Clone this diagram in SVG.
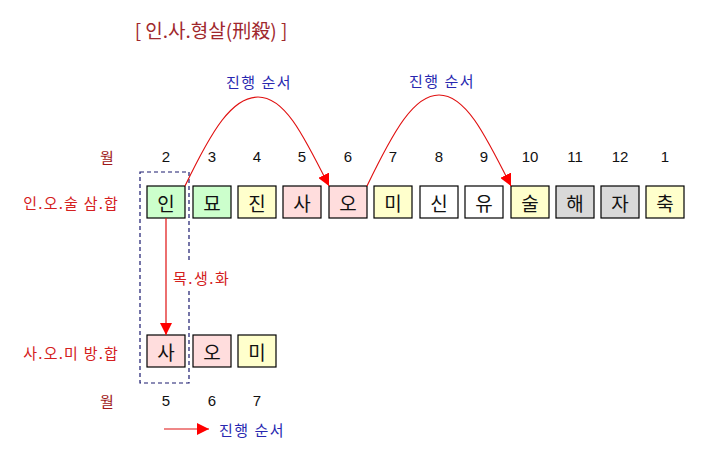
<svg xmlns="http://www.w3.org/2000/svg" width="710" height="456" viewBox="0 0 710 456">
<style>
text{font-family:"Noto Sans CJK KR","Noto Sans",sans-serif;}
.box{stroke:#000;stroke-width:1.2;}
.g{fill:#ccffcc}.y{fill:#ffffcc}.p{fill:#ffdddd}.w{fill:#ffffff}.d{fill:#d9d9d9}
.bt{font-size:19px;fill:#111;text-anchor:middle;dominant-baseline:central;}
.num{font-size:15px;fill:#111;text-anchor:middle;dominant-baseline:central;font-family:"Liberation Sans",sans-serif;}
.lbl{font-size:15px;fill:#d42020;text-anchor:end;dominant-baseline:central;letter-spacing:1.2px;}
.mon{font-size:15px;fill:#a01818;text-anchor:middle;dominant-baseline:central;}
.blue{font-size:15px;fill:#2828b0;dominant-baseline:central;letter-spacing:1.5px;}
.conn{fill:none;stroke:#e01010;stroke-width:1.2;}
</style>
<defs>
<marker id="ah" viewBox="0 0 10 10" refX="10" refY="5" markerWidth="12" markerHeight="12" markerUnits="userSpaceOnUse" orient="auto">
<path d="M0,0 L10,5 L0,10 Z" fill="#ff0000"/>
</marker>
</defs>
<text x="211" y="29" font-size="19" fill="#a0282d" text-anchor="middle" dominant-baseline="central">[ 인.사.형살(刑殺) ]</text>

<g id="months-top">
<text class="mon" x="107" y="156">월</text>
<text class="num" x="166" y="156">2</text>
<text class="num" x="212" y="156">3</text>
<text class="num" x="257" y="156">4</text>
<text class="num" x="302" y="156">5</text>
<text class="num" x="348" y="156">6</text>
<text class="num" x="393" y="156">7</text>
<text class="num" x="439" y="156">8</text>
<text class="num" x="484" y="156">9</text>
<text class="num" x="530" y="156">10</text>
<text class="num" x="575" y="156">11</text>
<text class="num" x="620" y="156">12</text>
<text class="num" x="665" y="156">1</text>
</g>
<text class="lbl" x="119" y="202">인.오.술 삼.합</text>
<text class="lbl" x="119" y="352">사.오.미 방.합</text>

<g id="n-in"><rect class="box g" x="147" y="186" width="38" height="32"/><text class="bt" x="166" y="202">인</text></g>
<g id="n-myo"><rect class="box g" x="193" y="186" width="38" height="32"/><text class="bt" x="212" y="202">묘</text></g>
<g id="n-jin"><rect class="box y" x="238" y="186" width="38" height="32"/><text class="bt" x="257" y="202">진</text></g>
<g id="n-sa"><rect class="box p" x="283" y="186" width="38" height="32"/><text class="bt" x="302" y="202">사</text></g>
<g id="n-o"><rect class="box p" x="329" y="186" width="38" height="32"/><text class="bt" x="348" y="202">오</text></g>
<g id="n-mi"><rect class="box y" x="374" y="186" width="38" height="32"/><text class="bt" x="393" y="202">미</text></g>
<g id="n-sin"><rect class="box w" x="420" y="186" width="38" height="32"/><text class="bt" x="439" y="202">신</text></g>
<g id="n-yu"><rect class="box w" x="465" y="186" width="38" height="32"/><text class="bt" x="484" y="202">유</text></g>
<g id="n-sul"><rect class="box y" x="511" y="186" width="38" height="32"/><text class="bt" x="530" y="202">술</text></g>
<g id="n-hae"><rect class="box d" x="556" y="186" width="38" height="32"/><text class="bt" x="575" y="202">해</text></g>
<g id="n-ja"><rect class="box d" x="601" y="186" width="38" height="32"/><text class="bt" x="620" y="202">자</text></g>
<g id="n-chuk"><rect class="box y" x="646" y="186" width="38" height="32"/><text class="bt" x="665" y="202">축</text></g>

<g id="n-sa2"><rect class="box p" x="147" y="335" width="38" height="32"/><text class="bt" x="166" y="351">사</text></g>
<g id="n-o2"><rect class="box p" x="193" y="335" width="38" height="32"/><text class="bt" x="212" y="351">오</text></g>
<g id="n-mi2"><rect class="box y" x="238" y="335" width="38" height="32"/><text class="bt" x="257" y="351">미</text></g>

<g id="months-bottom">
<text class="mon" x="107" y="400">월</text>
<text class="num" x="166" y="400">5</text>
<text class="num" x="212" y="400">6</text>
<text class="num" x="257" y="400">7</text>
</g>

<rect id="highlight" x="140" y="172" width="49" height="211" fill="none" stroke="#1a1a6e" stroke-width="1.2" stroke-dasharray="4,3"/>

<g id="connectors">
<path class="conn" d="M185,186 C212,130 232,97 258,97 C284,97 302,132 329,186" marker-end="url(#ah)"/>
<path class="conn" d="M367,186 C394,130 414,95 439,95 C465,95 484,132 511,186" marker-end="url(#ah)"/>
<path class="conn" d="M166,218 L166,335" marker-end="url(#ah)"/>
<path class="conn" d="M164,429 L209,429" marker-end="url(#ah)"/>
</g>
<text class="blue" x="259" y="81" text-anchor="middle">진행 순서</text>
<text class="blue" x="442" y="80" text-anchor="middle">진행 순서</text>
<g id="label-mok">
<rect x="171" y="263" width="60" height="27" fill="#ffffff"/>
<text x="173" y="277" font-size="15" fill="#d42020" dominant-baseline="central" letter-spacing="1.5">목.생.화</text>
</g>
<text class="blue" x="219" y="429">진행 순서</text>
</svg>
